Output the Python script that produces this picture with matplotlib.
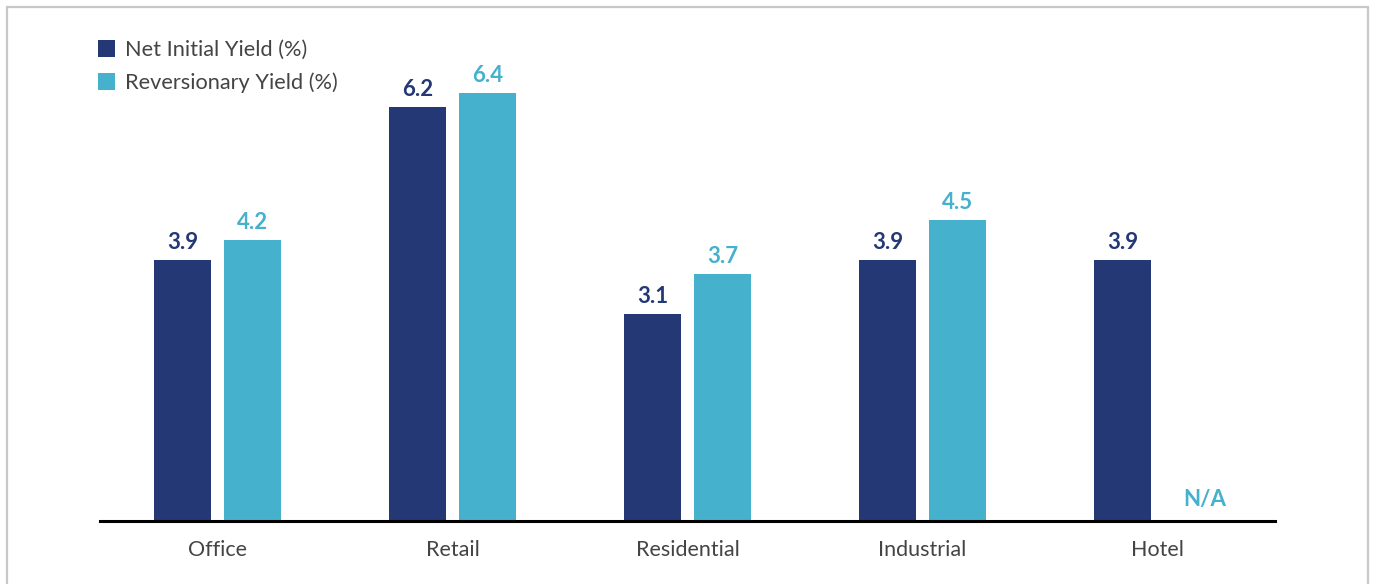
import numpy as np
import matplotlib.pyplot as plt
from matplotlib.patches import Rectangle

categories = ['Office', 'Retail', 'Residential', 'Industrial', 'Hotel']
net_initial = [3.9, 6.2, 3.1, 3.9, 3.9]
reversionary = [4.2, 6.4, 3.7, 4.5, np.nan]
series_names = ['Net Initial Yield (%)', 'Reversionary Yield (%)']

DARK = '#233874'
LIGHT = '#45B1CC'
GREY = '#444444'

plt.rcParams['font.family'] = ['Lato', 'DejaVu Sans']

W, H = 1373, 584
fig = plt.figure(figsize=(W / 100, H / 100), dpi=100)
ax = fig.add_axes([100 / W, 63 / H, 1175 / W, 501 / H])

x = np.arange(len(categories))
off = 35 / 235
bw = 57 / 235
b1 = ax.bar(x - off, net_initial, bw, color=DARK, label=series_names[0])
b2 = ax.bar(x + off, np.nan_to_num(reversionary), bw, color=LIGHT, label=series_names[1])

for xi, v in zip(x, net_initial):
    ax.annotate(f'{v:.1f}', (xi - off, v), xytext=(0, 7), textcoords='offset pixels',
                ha='center', va='bottom', fontsize=16, fontweight='bold', color=DARK)
for xi, v in zip(x, reversionary):
    if np.isnan(v):
        ax.annotate('N/A', (xi + off, 0), xytext=(12, 11), textcoords='offset pixels',
                    ha='center', va='bottom', fontsize=16, fontweight='bold', color=LIGHT)
    else:
        ax.annotate(f'{v:.1f}', (xi + off, v), xytext=(0, 7), textcoords='offset pixels',
                    ha='center', va='bottom', fontsize=16, fontweight='bold', color=LIGHT)

ax.set_xlim(-0.5, len(categories) - 0.5)
ax.set_ylim(0, 501 / 66.8)
ax.set_xticks(x, categories)
ax.tick_params(axis='x', length=0, pad=14, labelsize=15.5, labelcolor=GREY)
ax.set_yticks([])
for s in ['top', 'right', 'left']:
    ax.spines[s].set_visible(False)
ax.spines['bottom'].set_linewidth(2.2)
ax.spines['bottom'].set_color('black')

leg = fig.legend(handles=[b1, b2], loc='upper left', bbox_to_anchor=(98 / W, 1 - 40 / H),
                 frameon=False, fontsize=15.7, handlelength=0.8, handleheight=0.8,
                 handletextpad=0.45, labelspacing=0.58, borderpad=0, borderaxespad=0)
for t in leg.get_texts():
    t.set_color(GREY)

fig.patches.append(Rectangle((7 / W, -0.1), (1368 - 7) / W, 1.1 - 7 / H,
                             transform=fig.transFigure, fill=False,
                             edgecolor='#c8c8c8', linewidth=1.6))

fig.savefig('out.png', dpi=100)
